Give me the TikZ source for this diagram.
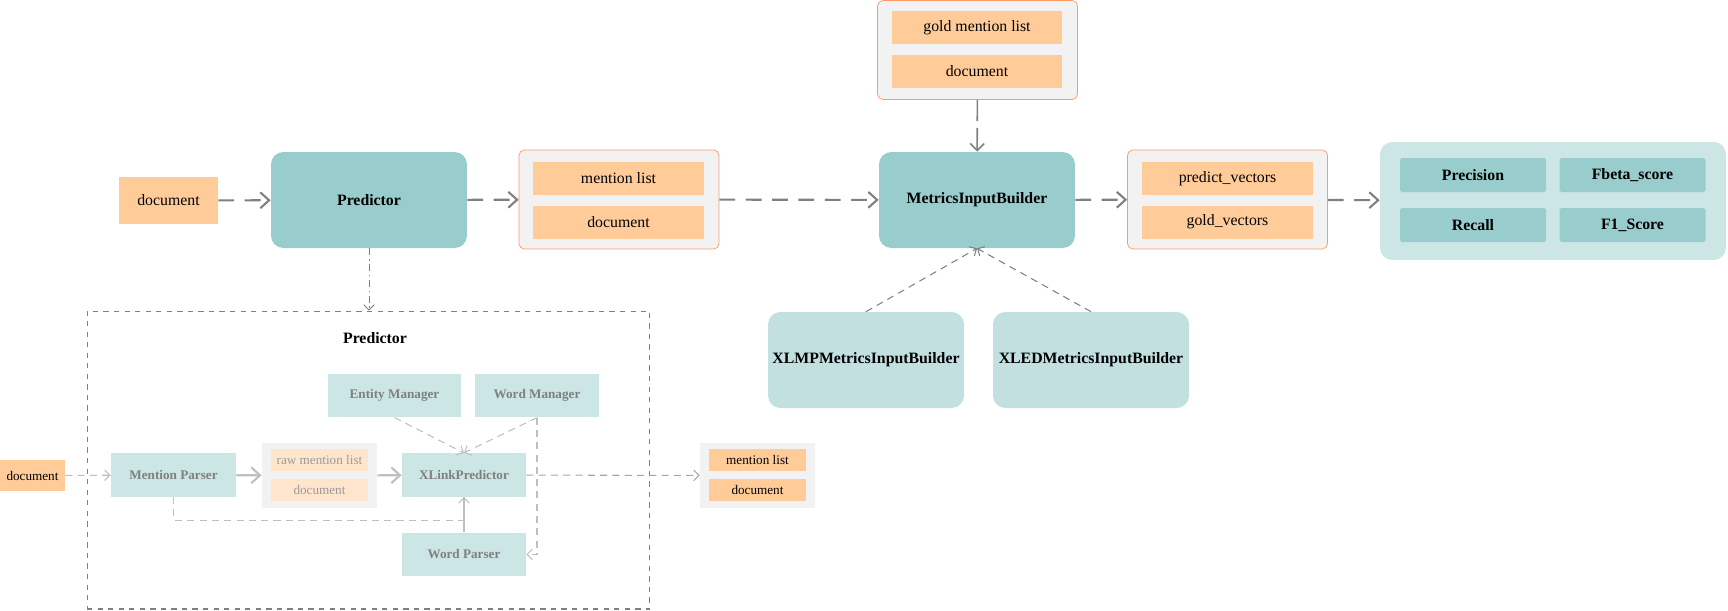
\documentclass[tikz,border=0pt]{standalone}
\usepackage{fontspec}
\setmainfont{Liberation Serif}
\usetikzlibrary{arrows.meta}

\definecolor{orangefill}{HTML}{FFCC99}
\definecolor{paleorange}{HTML}{FFE5CC}
\definecolor{orangeline}{HTML}{FF9966}
\definecolor{groupfill}{HTML}{F2F2F2}
\definecolor{tealdark}{HTML}{99CCCC}
\definecolor{teallight}{HTML}{C2E0E0}
\definecolor{tealpale}{HTML}{CCE5E5}
\definecolor{flowgray}{HTML}{808080}
\definecolor{innergray}{HTML}{BFBFBF}

\begin{document}
\begin{tikzpicture}[x=0.02cm, y=-0.02cm,
  every node/.style={inner sep=0pt, font=\fontsize{9}{11}\selectfont},
  small/.style={font=\fontsize{7.5}{9}\selectfont},
  docbox/.style={fill=orangefill, minimum width=3.42cm, minimum height=0.66cm},
  minibox/.style={fill=orangefill, small, minimum width=1.94cm, minimum height=0.44cm},
  palebox/.style={fill=paleorange, small, text=flowgray!80, minimum width=1.94cm, minimum height=0.44cm},
  group/.style={draw=orangeline, fill=groupfill, rounded corners=3pt, minimum width=4cm, minimum height=1.98cm},
  minigroup/.style={fill=groupfill, minimum width=2.3cm, minimum height=1.3cm},
  bigbox/.style={fill=tealdark, rounded corners=7pt, font=\fontsize{9}{11}\selectfont\bfseries, minimum width=3.92cm, minimum height=1.92cm},
  subbox/.style={fill=teallight, rounded corners=7pt, font=\fontsize{9}{11}\selectfont\bfseries, minimum width=3.92cm, minimum height=1.92cm},
  metricbox/.style={fill=tealdark, rounded corners=1pt, font=\fontsize{9}{11}\selectfont\bfseries, minimum width=2.92cm, minimum height=0.68cm},
  innerbox/.style={fill=tealpale, small, font=\fontsize{7.5}{9}\selectfont\bfseries, text=flowgray, minimum height=0.87cm},
  flow/.style={flowgray, line width=1.2pt, dash pattern=on 9pt off 6pt, -{Straight Barb[length=5pt, width=9pt]}},
  thin flow/.style={flowgray, line width=0.6pt, dash pattern=on 4pt off 3pt, -{Straight Barb[length=3pt, width=6pt]}},
  inner dash/.style={innergray, line width=0.6pt, dash pattern=on 4pt off 3pt, -{Straight Barb[length=3pt, width=6pt]}},
  inner solid/.style={innergray, line width=1.2pt, -{Straight Barb[length=5pt, width=9pt]}}]

  \useasboundingbox (0,0) rectangle (1728,610);

  % Top row
  \node[fill=orangefill, minimum width=1.98cm, minimum height=0.94cm] (doc) at (168.5,200.5) {document};
  \node[bigbox] (pred) at (369,200) {Predictor};

  \node[group] (mlgroup) at (619,199.5) {};
  \node[docbox] (ml) at (618.5,178.5) {mention list};
  \node[docbox] (mldoc) at (618.5,222) {document};

  \node[group] (goldgroup) at (977.5,50) {};
  \node[docbox] (goldml) at (977,27.5) {gold mention list};
  \node[docbox] (golddoc) at (977,71.5) {document};

  \node[bigbox] (mib) at (977,200) {MetricsInputBuilder};

  \node[group] (vecgroup) at (1227.5,199.5) {};
  \node[docbox] (pv) at (1227.5,178.5) {predict\_vectors};
  \node[docbox] (gv) at (1227.5,222) {gold\_vectors};

  % Metrics
  \node[fill=tealpale, rounded corners=7pt, minimum width=6.92cm, minimum height=2.36cm] (metrics) at (1553,201) {};
  \node[metricbox] (precision) at (1473,175) {Precision};
  \node[metricbox] (fbeta) at (1632.5,175) {Fbeta\_score};
  \node[metricbox] (recall) at (1473,225) {Recall};
  \node[metricbox] (fone) at (1632.5,225) {F1\_Score};

  % Builders
  \node[subbox] (xlmp) at (866,360) {XLMPMetricsInputBuilder};
  \node[subbox] (xled) at (1091,360) {XLEDMetricsInputBuilder};

  \draw[flow] (doc) -- (pred);
  \draw[flow] (pred) -- (mlgroup);
  \draw[flow] (mlgroup) -- (mib);
  \draw[flow] (mib) -- (vecgroup);
  \draw[flow] (vecgroup) -- (metrics);
  \draw[flowgray, line width=0.9pt, dash pattern=on 12pt off 4pt, -{Straight Barb[length=4pt, width=8pt]}] (goldgroup) -- (mib);
  \draw[thin flow] (xlmp.north) -- (mib.south);
  \draw[thin flow] (xled.north) -- (mib.south);

  % Predictor detail
  \node[draw=flowgray, dashed, line width=0.6pt, minimum width=11.26cm, minimum height=5.96cm] (frame) at (368.5,460) {};
  \node[font=\fontsize{9}{11}\selectfont\bfseries] (title) at (375,338) {Predictor};
  \draw[flowgray, line width=0.5pt, dash pattern=on 4pt off 2pt on 1pt off 2pt, -{Straight Barb[length=3pt, width=6pt]}] (pred.south) -- (pred.south |- frame.north);

  \node[innerbox, minimum width=2.66cm] (em) at (394.5,395.5) {Entity Manager};
  \node[innerbox, minimum width=2.48cm] (wm) at (537,395.5) {Word Manager};
  \node[innerbox, minimum width=2.5cm] (mp) at (173.5,475) {Mention Parser};
  \node[minigroup] (rawgroup) at (319.5,475.5) {};
  \node[palebox] (rawml) at (319.5,460) {raw mention list};
  \node[palebox] (rawdoc) at (319.5,490) {document};
  \node[innerbox, minimum width=2.48cm] (xlp) at (464,475) {XLinkPredictor};
  \node[innerbox, minimum width=2.48cm] (wp) at (464,554.5) {Word Parser};

  \node[fill=orangefill, small, minimum width=1.3cm, minimum height=0.62cm] (docin) at (32.5,475.5) {document};
  \node[minigroup] (outgroup) at (757.5,475.5) {};
  \node[minibox] (outml) at (757.5,460) {mention list};
  \node[minibox] (outdoc) at (757.5,490) {document};

  \draw[inner dash] (docin) -- (mp);
  \draw[inner solid] (mp) -- (rawgroup);
  \draw[inner solid] (rawgroup) -- (xlp);
  \draw[inner dash] (em.south) -- (xlp.north);
  \draw[inner dash] (wm.south) -- (xlp.north);
  \draw[inner dash] (wm.south) |- (wp.east);
  \draw[inner dash] (mp.south) -- ++(0,23) -| (xlp.south);
  \draw[innergray, line width=0.6pt] (wp.north) -- (xlp.south);
  \draw[inner dash, draw=flowgray!70] (xlp) -- (outgroup);
\end{tikzpicture}
\end{document}
